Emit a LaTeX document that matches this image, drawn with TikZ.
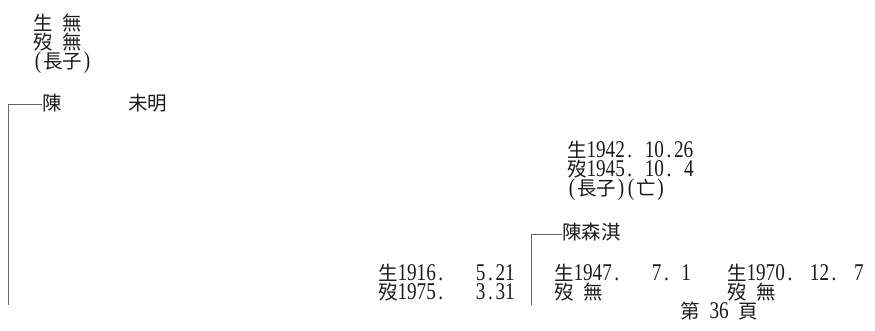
\documentclass[tikz,border=0pt]{standalone}
\usepackage{fontspec}
\setmainfont{Liberation Serif}[FakeStretch=0.8]
\newfontfamily\cj{Noto Sans CJK TC}
\newcommand\pd{\makebox[10pt][c]{.}}
\newcommand\hs{\hspace*{10pt}}
\newcommand\lp{\makebox[10pt][c]{(}}
\newcommand\rp{\makebox[10pt][c]{)}}
\newcommand\C[1]{{\cj\fontsize{19.5}{19.5}\selectfont #1}}
\definecolor{ink}{HTML}{1A1A1A}
\definecolor{rule}{HTML}{666666}
\tikzset{
  txt/.style={anchor=base west, inner sep=0pt, outer sep=0pt, text=ink,
    text height=14pt, text depth=3pt, font=\fontsize{24}{24}\selectfont},
  bracket/.style={draw=rule, line width=1pt}
}
\begin{document}
\begin{tikzpicture}[x=1pt,y=-1pt]
\useasboundingbox (0,0) rectangle (875,331);
% top-left block
\node[txt] (b1) at (33,30.5) {\C{生}\hs\C{無}};
\node[txt] (d1) at (33,49.5) {\C{歿}\hs\C{無}};
\node[txt] (s1) at (33,68.5) {\lp\C{長子}\rp};
% first person
\node[txt] (chen) at (42,110.5) {\C{陳}};
\node[txt] (weiming) at (128,110.5) {\C{未明}};
% right block
\node[txt] (b2) at (567,157.5) {\C{生}1942\pd\hs10\pd26};
\node[txt] (d2) at (567,176.5) {\C{歿}1945\pd\hs10\pd\hs4};
\node[txt] (s2) at (567,195.5) {\lp\C{長子}\rp\lp\C{亡}\rp};
\node[txt] (chensq) at (562,240) {\C{陳森淇}};
% bottom rows
\node[txt] (b3) at (378,280) {\C{生}1916\pd\hs\hs\hs5\pd21};
\node[txt] (d3) at (378,299) {\C{歿}1975\pd\hs\hs\hs3\pd31};
\node[txt] (b4) at (554,280) {\C{生}1947\pd\hs\hs\hs7\pd\hs1};
\node[txt] (d4) at (554,299) {\C{歿}\hs\C{無}};
\node[txt] (b5) at (727,280) {\C{生}1970\pd\hspace*{15pt}12\pd\hspace*{15pt}7};
\node[txt] (d5) at (727,299) {\C{歿}\hs\C{無}};
\node[txt] (page) at (680,318.5) {\C{第}\hs36\hs\C{頁}};
% brackets
\coordinate (lbot) at (8,305);
\coordinate (rbot) at (531,305);
\draw[bracket] (lbot) |- ([yshift=0.5pt]chen.west);
\draw[bracket] (rbot) |- ([yshift=0.5pt]chensq.west);
\end{tikzpicture}
\end{document}
